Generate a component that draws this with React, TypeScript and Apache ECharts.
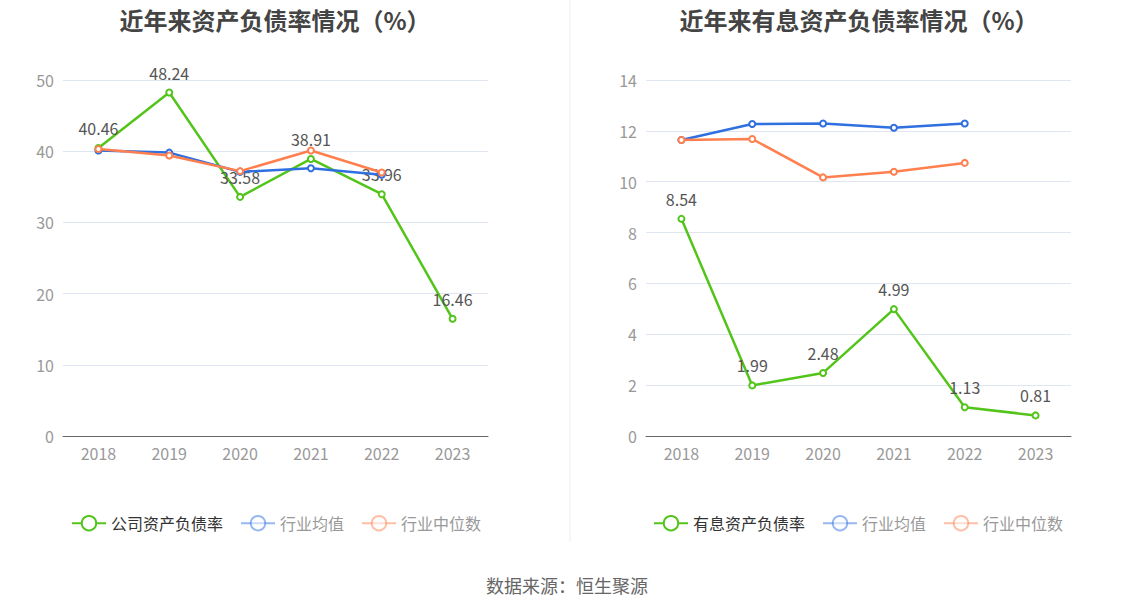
import React, { useEffect, useRef } from "react";
import * as echarts from "echarts";

const years = ["2018", "2019", "2020", "2021", "2022", "2023"];
const companyDebt = [40.46, 48.24, 33.58, 38.91, 33.96, 16.46];
const industryAvgDebt = [40.1, 39.8, 37.1, 37.6, 36.7, null];
const industryMedDebt = [40.3, 39.4, 37.2, 40.1, 37.0, null];
const interestDebt = [8.54, 1.99, 2.48, 4.99, 1.13, 0.81];
const industryAvgInterest = [11.64, 12.27, 12.29, 12.12, 12.29, null];
const industryMedInterest = [11.64, 11.68, 10.17, 10.39, 10.74, null];

const GREEN = "#52c41a";
const BLUE = "#2f6fe0";
const ORANGE = "#ff7f4f";
const FONT = "Noto Sans CJK SC";

export default function App() {
  const ref = useRef<HTMLDivElement>(null);
  useEffect(() => {
    if (!ref.current) return;
    const chart = echarts.init(ref.current, null, { renderer: "svg" });
    const labelCfg = {
      show: true,
      position: "top" as const,
      distance: 8,
      color: "#555",
      fontSize: 16,
      fontFamily: FONT,
    };
    const mkLine = (
      name: string,
      data: (number | null)[],
      color: string,
      idx: number,
      label: boolean,
      z: number
    ) => ({
      name,
      type: "line",
      xAxisIndex: idx,
      yAxisIndex: idx,
      data,
      symbol: "circle",
      symbolSize: 6,
      z,
      itemStyle: { color: "#fff", borderColor: color, borderWidth: 2 },
      lineStyle: { color, width: 2.5 },
      label: label ? labelCfg : { show: false },
      emphasis: { disabled: true },
    });
    const xAxis = (idx: number) => ({
      type: "category",
      gridIndex: idx,
      data: years,
      boundaryGap: true,
      axisLine: { lineStyle: { color: "#666" } },
      axisTick: { alignWithLabel: true, length: 5, lineStyle: { color: "#666" } },
      axisLabel: { color: "#999", fontSize: 16, fontFamily: FONT, margin: 9 },
    });
    const yAxis = (idx: number, max: number, interval: number) => ({
      type: "value",
      gridIndex: idx,
      min: 0,
      max,
      interval,
      axisLine: { show: false },
      axisTick: { show: false },
      axisLabel: { color: "#999", fontSize: 16, fontFamily: FONT, margin: 9 },
      splitLine: { lineStyle: { color: "#e0e6f1" } },
    });
    const legendData = (first: string) => [
      { name: first, textStyle: { color: "#333" } },
      { name: "行业均值", textStyle: { color: "#999" }, itemStyle: { opacity: 0.5 }, lineStyle: { opacity: 0.5 } },
      { name: "行业中位数", textStyle: { color: "#999" }, itemStyle: { opacity: 0.5 }, lineStyle: { opacity: 0.5 } },
    ];
    const legendBase = {
      top: 510,
      itemWidth: 34,
      itemHeight: 18,
      itemGap: 17,
      textStyle: { fontSize: 16, fontFamily: FONT },
      selectedMode: false,
      orient: "horizontal",
    };
    const titleText = (text: string, x: number) => ({
      type: "text",
      x,
      y: 19,
      style: {
        text,
        fill: "#444",
        fontSize: 24,
        fontWeight: "bold",
        fontFamily: FONT,
        align: "center",
        verticalAlign: "middle",
      },
    });
    chart.setOption({
      animation: false,
      legend: [
        { ...legendBase, data: legendData("公司资产负债率"), left: 66 },
        { ...legendBase, data: legendData("有息资产负债率"), left: 648 },
      ],
      grid: [
        { left: 63, right: 1134 - 488, top: 80, bottom: 612 - 436 },
        { left: 646, right: 1134 - 1071, top: 80, bottom: 612 - 436 },
      ],
      xAxis: [xAxis(0), xAxis(1)],
      yAxis: [yAxis(0, 50, 10), yAxis(1, 14, 2)],
      series: [
        mkLine("行业均值", industryAvgDebt, BLUE, 0, false, 2),
        mkLine("行业中位数", industryMedDebt, ORANGE, 0, false, 3),
        mkLine("公司资产负债率", companyDebt, GREEN, 0, true, 1),
        mkLine("行业均值", industryAvgInterest, BLUE, 1, false, 2),
        mkLine("行业中位数", industryMedInterest, ORANGE, 1, false, 3),
        mkLine("有息资产负债率", interestDebt, GREEN, 1, true, 1),
      ],
      graphic: [
        titleText("近年来资产负债率情况（%）", 275),
        titleText("近年来有息资产负债率情况（%）", 859),
        {
          type: "line",
          shape: { x1: 570, y1: 0, x2: 570, y2: 542 },
          style: { stroke: "#eeeeee", lineWidth: 1 },
        },
        {
          type: "text",
          x: 567,
          y: 585,
          style: {
            text: "数据来源：恒生聚源",
            fill: "#666",
            fontSize: 18,
            fontFamily: FONT,
            align: "center",
            verticalAlign: "middle",
          },
        },
      ],
    });
    return () => chart.dispose();
  }, []);
  return (
    <div
      ref={ref}
      style={{ width: 1134, height: 612, position: "fixed", left: 0, top: 0, background: "#fff" }}
    />
  );
}
